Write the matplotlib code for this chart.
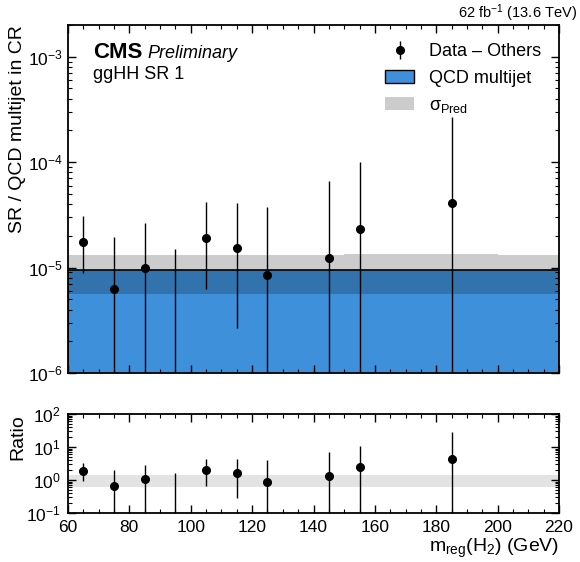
import numpy as np
import matplotlib
matplotlib.use('Agg')
import matplotlib.pyplot as plt
from matplotlib.patches import Patch
from matplotlib.ticker import MultipleLocator, LogLocator, NullFormatter

plt.rcParams['font.family'] = ['Liberation Sans', 'DejaVu Sans']
plt.rcParams['mathtext.fontset'] = 'custom'
plt.rcParams['mathtext.rm'] = 'Liberation Sans'
plt.rcParams['mathtext.it'] = 'Liberation Sans:italic'
plt.rcParams['mathtext.bf'] = 'Liberation Sans:bold'

# binning of m_reg(H2) in GeV
edges = np.arange(60, 221, 10)

# data - others, bins that have entries
data_x = np.array([65, 75, 85, 95, 105, 115, 125, 145, 155, 185])
data_val = np.array([1.74e-5, 6.3e-6, 9.85e-6, -5.0e-6, 1.91e-5, 1.53e-5, 8.45e-6, 1.23e-5, 2.34e-5, 4.13e-5])
data_err_hi = np.array([1.36e-5, 1.32e-5, 1.69e-5, 2.0e-5, 2.28e-5, 2.57e-5, 2.94e-5, 5.37e-5, 7.66e-5, 2.27e-4])
data_err_lo = np.array([8.5e-6, 1.32e-5, 1.69e-5, 2.0e-5, 1.29e-5, 1.26e-5, 2.94e-5, 5.37e-5, 7.66e-5, 2.27e-4])

# QCD multijet prediction (SR / CR transfer) and its uncertainty
qcd = np.full(16, 9.4e-6)
qcd_err_up = np.array([3.9e-6] * 9 + [4.2e-6] * 5 + [3.9e-6] * 2)
qcd_err_dn = np.full(16, 3.75e-6)

blue = '#3f90da'
tiny = 1e-12

fig = plt.figure(figsize=(5.8, 5.62), dpi=100)
ax = fig.add_axes([68/580, 1-373/562, 491/580, 348/562])
rax = fig.add_axes([68/580, 1-513/562, 491/580, 99/562])

# main panel
ax.stairs(qcd, edges, baseline=tiny, fill=True, color=blue, lw=0)
ax.stairs(qcd, edges, color='k', lw=1.2)
ax.stairs(qcd + qcd_err_up, edges, baseline=qcd - qcd_err_dn, fill=True,
          color='k', alpha=0.2, lw=0)

pos = data_val > 0
lo = np.minimum(data_err_lo, data_val - tiny)
h_data = ax.errorbar(data_x[pos], data_val[pos], yerr=[lo[pos], data_err_hi[pos]],
                     fmt='o', color='k', ms=5.5, elinewidth=1, capsize=0)
neg = ~pos
ax.vlines(data_x[neg], tiny, data_val[neg] + data_err_hi[neg], color='k', lw=1)

ax.set_yscale('log')
ax.set_ylim(1e-6, 2e-3)
ax.set_xlim(60, 220)
ax.set_ylabel('SR / QCD multijet in CR', fontsize=14, loc='top')
ax.yaxis.set_label_coords(-0.085, 1.0)
ax.tick_params(labelbottom=False)

handles = [h_data,
           Patch(facecolor=blue, edgecolor='k', lw=1),
           Patch(facecolor='k', alpha=0.2, lw=0)]
labels = ['Data – Others', 'QCD multijet', 'σ$_\\mathrm{Pred}$']
ax.legend(handles, labels, loc='upper right', frameon=False, fontsize=13,
          handlelength=1.6, handletextpad=0.8, labelspacing=0.55,
          borderaxespad=0.6)

fig.text(93/580, 1-58/562, 'CMS', fontsize=16, fontweight='bold', va='baseline')
fig.text(147/580, 1-58/562, 'Preliminary', fontsize=13, style='italic', va='baseline')
fig.text(93/580, 1-79/562, 'ggHH SR 1', fontsize=13, va='baseline')
fig.text(577/580, 1-18/562, '62 fb$^{-1}$ (13.6 TeV)', fontsize=10.5,
         ha='right', va='baseline')

# ratio panel
ratio = data_val / 9.4e-6
r_hi = data_err_hi / 9.4e-6
r_lo = np.minimum(data_err_lo / 9.4e-6, ratio - tiny)
rax.stairs(1 + qcd_err_up / qcd, edges, baseline=1 - qcd_err_dn / qcd, fill=True,
           color='k', alpha=0.11, lw=0)
rax.errorbar(data_x[pos], ratio[pos], yerr=[r_lo[pos], r_hi[pos]],
             fmt='o', color='k', ms=5.5, elinewidth=1, capsize=0)
rax.vlines(data_x[neg], tiny, ratio[neg] + r_hi[neg], color='k', lw=1)
rax.set_yscale('log')
rax.set_ylim(0.1, 100)
rax.set_xlim(60, 220)
rax.set_ylabel('Ratio', fontsize=14, loc='top')
rax.yaxis.set_label_coords(-0.085, 1.0)
rax.set_xlabel('m$_\\mathrm{reg}$(H$_2$) (GeV)', fontsize=14, loc='right', labelpad=1)

for a in (ax, rax):
    a.xaxis.set_major_locator(MultipleLocator(20))
    a.xaxis.set_minor_locator(MultipleLocator(5))
    a.yaxis.set_major_locator(LogLocator(base=10))
    a.yaxis.set_minor_locator(LogLocator(base=10, subs=np.arange(2, 10)))
    a.yaxis.set_minor_formatter(NullFormatter())
    a.tick_params(which='both', direction='in', top=True, right=True, labelsize=12.5)
    a.tick_params(which='major', length=6, width=1)
    a.tick_params(which='minor', length=3, width=0.8)
    for s in a.spines.values():
        s.set_linewidth(1.3)
rax.tick_params(axis='x', which='major', pad=5)
rax.tick_params(axis='y', which='major', pad=5)

fig.savefig('out.png', dpi=100)
